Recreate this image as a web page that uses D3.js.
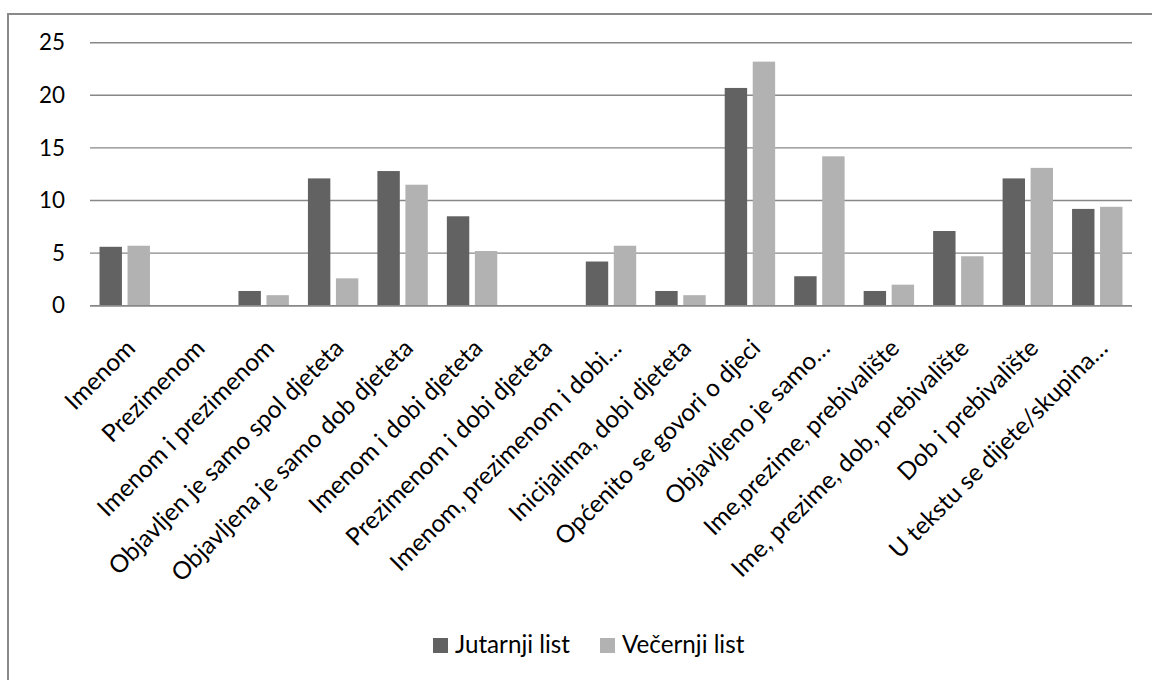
<!DOCTYPE html>
<html>
<head>
<meta charset="utf-8">
<script src="https://cdn.jsdelivr.net/npm/d3@7"></script>
<style>
  html, body { margin: 0; padding: 0; background: #fff; }
  svg { display: block; }
  text { font-family: Lato, "Open Sans", sans-serif; fill: #000; }
</style>
</head>
<body>
<svg id="chart" width="1152" height="680"></svg>
<script>
// Category labels along the x axis
const categories = [
  "Imenom",
  "Prezimenom",
  "Imenom i prezimenom",
  "Objavljen je samo spol djeteta",
  "Objavljena je samo dob djeteta",
  "Imenom i dobi djeteta",
  "Prezimenom i dobi djeteta",
  "Imenom, prezimenom i dobi…",
  "Inicijalima, dobi djeteta",
  "Općenito se govori o djeci",
  "Objavljeno je samo…",
  "Ime,prezime, prebivalište",
  "Ime, prezime, dob, prebivalište",
  "Dob i prebivalište",
  "U tekstu se dijete/skupina…"
];

// Series values
const seriesNames = ["Jutarnji list", "Večernji list"];
const jutarnji = [5.6, 0, 1.4, 12.1, 12.8, 8.5, 0, 4.2, 1.4, 20.7, 2.8, 1.4, 7.1, 12.1, 9.2];
const vecernji = [5.7, 0, 1.0, 2.6, 11.5, 5.2, 0, 5.7, 1.0, 23.2, 14.2, 2.0, 4.7, 13.1, 9.4];

// Y axis ticks
const yTicks = [0, 5, 10, 15, 20, 25];

const seriesColors = ["#626262", "#b2b2b2"];
const gridColor = "#888888";
const fontFamily = "Lato, 'Open Sans', sans-serif";

const svg = d3.select("#chart");
const plot = { left: 90, right: 1132, top: 42.7, bottom: 305.7 };

// Pick a font size so that a sample string spans the wanted width
function fitSize(sample, width) {
  const t = svg.append("text").style("font-family", fontFamily).style("font-size", "20px").text(sample);
  const w = t.node().getComputedTextLength();
  t.remove();
  return 20 * width / w;
}
const labelSize = fitSize("Imenom i prezimenom", 238);
const legendSize = fitSize("Jutarnji list", 115);
const tickSize = fitSize("25", 26);

// Outer chart frame (continues past the right and bottom edges)
svg.append("rect")
  .attr("x", 8).attr("y", 14)
  .attr("width", 1180).attr("height", 700)
  .attr("fill", "none")
  .attr("stroke", "#8a8a8a")
  .attr("stroke-width", 2);

const x = d3.scaleBand()
  .domain(categories)
  .range([plot.left, plot.right])
  .paddingInner(0)
  .paddingOuter(0);

const y = d3.scaleLinear()
  .domain([0, 25])
  .range([plot.bottom, plot.top]);

const xs = d3.scaleBand()
  .domain(seriesNames)
  .range([0, x.bandwidth()])
  .paddingInner(0.2)
  .paddingOuter(0.34);

// Horizontal gridlines
svg.append("g")
  .selectAll("line")
  .data(yTicks)
  .join("line")
  .attr("x1", plot.left)
  .attr("x2", plot.right)
  .attr("y1", d => y(d))
  .attr("y2", d => y(d))
  .attr("stroke", gridColor)
  .attr("stroke-width", 1.4);

// Y axis labels
const yAxis = d3.axisLeft(y).tickValues(yTicks).tickSize(0).tickPadding(25);
const gy = svg.append("g")
  .attr("transform", `translate(${plot.left},0)`)
  .call(yAxis);
gy.select(".domain").remove();
gy.selectAll("text")
  .style("font-family", fontFamily)
  .style("font-size", tickSize + "px")
  .attr("fill", "#000");

// Bars
const rows = categories.map((c, i) => ({ cat: c, values: [jutarnji[i], vecernji[i]] }));
const groups = svg.append("g")
  .selectAll("g")
  .data(rows)
  .join("g")
  .attr("transform", d => `translate(${x(d.cat)},0)`);

groups.selectAll("rect")
  .data(d => d.values.map((v, k) => ({ key: seriesNames[k], v, k })))
  .join("rect")
  .attr("x", d => xs(d.key))
  .attr("width", xs.bandwidth())
  .attr("y", d => y(d.v))
  .attr("height", d => y(0) - y(d.v))
  .attr("fill", d => seriesColors[d.k]);

// Baseline (category axis)
svg.append("line")
  .attr("x1", plot.left).attr("x2", plot.right)
  .attr("y1", y(0)).attr("y2", y(0))
  .attr("stroke", gridColor)
  .attr("stroke-width", 1.4);

// Rotated category labels
const xAxis = d3.axisBottom(x).tickSize(0).tickPadding(0);
const gx = svg.append("g")
  .attr("transform", `translate(0,${plot.bottom})`)
  .call(xAxis);
gx.select(".domain").remove();
gx.selectAll(".tick text")
  .style("font-family", fontFamily)
  .style("font-size", labelSize + "px")
  .attr("fill", "#000")
  .attr("text-anchor", "end")
  .attr("dy", null)
  .attr("y", null)
  .attr("transform", "translate(12,44) rotate(-45)");

// Legend
const legendItems = [
  { name: seriesNames[0], color: seriesColors[0], x: 433 },
  { name: seriesNames[1], color: seriesColors[1], x: 600 }
];
const legend = svg.append("g");
legendItems.forEach(it => {
  legend.append("rect")
    .attr("x", it.x).attr("y", 638)
    .attr("width", 15).attr("height", 15)
    .attr("fill", it.color);
  legend.append("text")
    .attr("x", it.x + 22).attr("y", 653)
    .style("font-family", fontFamily)
    .style("font-size", legendSize + "px")
    .text(it.name);
});
</script>
</body>
</html>
